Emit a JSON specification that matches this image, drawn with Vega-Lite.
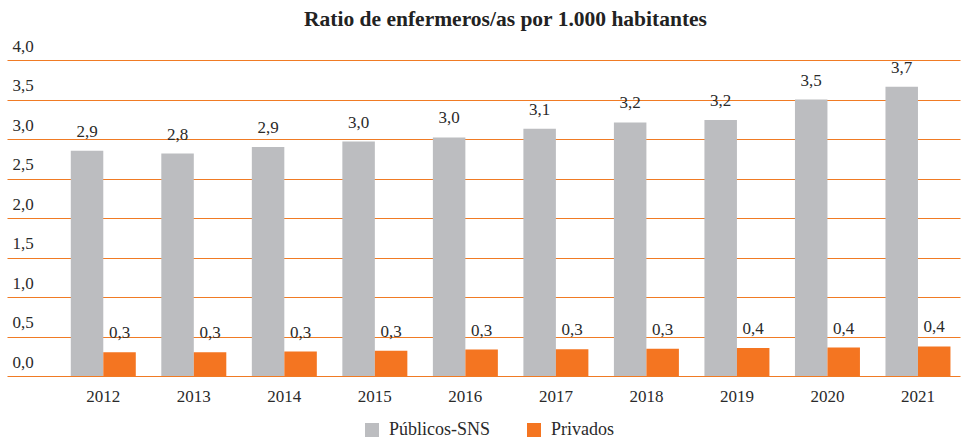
{
  "$schema": "https://vega.github.io/schema/vega-lite/v6.json",
  "width": 953,
  "height": 316,
  "autosize": {"type": "none"},
  "padding": {"left": 7, "top": 60, "right": 8, "bottom": 63},
  "background": "white",
  "title": {
    "text": "Ratio de enfermeros/as por 1.000 habitantes",
    "font": "Liberation Serif",
    "fontSize": 21.5,
    "fontWeight": "bold",
    "color": "#222222",
    "anchor": "middle",
    "dx": 22,
    "baseline": "alphabetic",
    "offset": -10
  },
  "config": {
    "locale": {"number": {"decimal": ",", "thousands": ".", "grouping": [3], "currency": ["", " €"]}},
    "view": {"stroke": null},
    "font": "Liberation Serif"
  },
  "data": {
    "values": [
      {"year": "2012", "serie": "Públicos-SNS", "value": 2.85},
      {"year": "2013", "serie": "Públicos-SNS", "value": 2.815},
      {"year": "2014", "serie": "Públicos-SNS", "value": 2.9},
      {"year": "2015", "serie": "Públicos-SNS", "value": 2.967},
      {"year": "2016", "serie": "Públicos-SNS", "value": 3.02},
      {"year": "2017", "serie": "Públicos-SNS", "value": 3.13},
      {"year": "2018", "serie": "Públicos-SNS", "value": 3.21},
      {"year": "2019", "serie": "Públicos-SNS", "value": 3.24},
      {"year": "2020", "serie": "Públicos-SNS", "value": 3.5},
      {"year": "2021", "serie": "Públicos-SNS", "value": 3.66},
      {"year": "2012", "serie": "Privados", "value": 0.3},
      {"year": "2013", "serie": "Privados", "value": 0.3},
      {"year": "2014", "serie": "Privados", "value": 0.31},
      {"year": "2015", "serie": "Privados", "value": 0.32},
      {"year": "2016", "serie": "Privados", "value": 0.335},
      {"year": "2017", "serie": "Privados", "value": 0.34},
      {"year": "2018", "serie": "Privados", "value": 0.345},
      {"year": "2019", "serie": "Privados", "value": 0.355},
      {"year": "2020", "serie": "Privados", "value": 0.36},
      {"year": "2021", "serie": "Privados", "value": 0.375}
    ]
  },
  "encoding": {
    "x": {
      "field": "year",
      "type": "nominal",
      "title": null,
      "scale": {"paddingInner": 0.282, "paddingOuter": 0.405, "align": 0.87},
      "axis": {
        "domain": false,
        "ticks": false,
        "labelAngle": 0,
        "labelFont": "Liberation Serif",
        "labelFontSize": 17,
        "labelColor": "#2a2a2a",
        "labelPadding": 12
      }
    },
    "xOffset": {
      "field": "serie",
      "type": "nominal",
      "sort": ["Públicos-SNS", "Privados"],
      "scale": {"paddingInner": 0, "paddingOuter": 0}
    },
    "y": {
      "field": "value",
      "type": "quantitative",
      "title": null,
      "scale": {"domain": [0, 4], "nice": false},
      "axis": {
        "values": [0, 0.5, 1, 1.5, 2, 2.5, 3, 3.5, 4],
        "format": ".1f",
        "domain": false,
        "ticks": false,
        "grid": true,
        "gridColor": "#f07b24",
        "gridWidth": 1.1,
        "gridOpacity": 1,
        "labelAlign": "left",
        "labelBaseline": "alphabetic",
        "labelPadding": -5,
        "labelOffset": -9,
        "labelFont": "Liberation Serif",
        "labelFontSize": 17,
        "labelColor": "#2a2a2a"
      }
    }
  },
  "layer": [
    {
      "mark": {"type": "bar"},
      "encoding": {
        "color": {
          "field": "serie",
          "type": "nominal",
          "sort": ["Públicos-SNS", "Privados"],
          "scale": {"domain": ["Públicos-SNS", "Privados"], "range": ["#bcbdc0", "#f47521"]},
          "legend": {
            "title": null,
            "orient": "none",
            "direction": "horizontal",
            "legendX": 356,
            "legendY": 361,
            "padding": 0,
            "symbolType": "square",
            "symbolSize": 196,
            "symbolStrokeWidth": 0,
            "symbolOpacity": 1,
            "labelFont": "Liberation Serif",
            "labelFontSize": 18,
            "labelColor": "#2a2a2a",
            "labelOffset": 8,
            "columnPadding": 34
          }
        }
      }
    },
    {
      "mark": {
        "type": "text",
        "baseline": "alphabetic",
        "dy": -14,
        "font": "Liberation Serif",
        "fontSize": 17,
        "color": "#2a2a2a"
      },
      "encoding": {
        "text": {"field": "value", "type": "quantitative", "format": ".1f"}
      }
    }
  ]
}
